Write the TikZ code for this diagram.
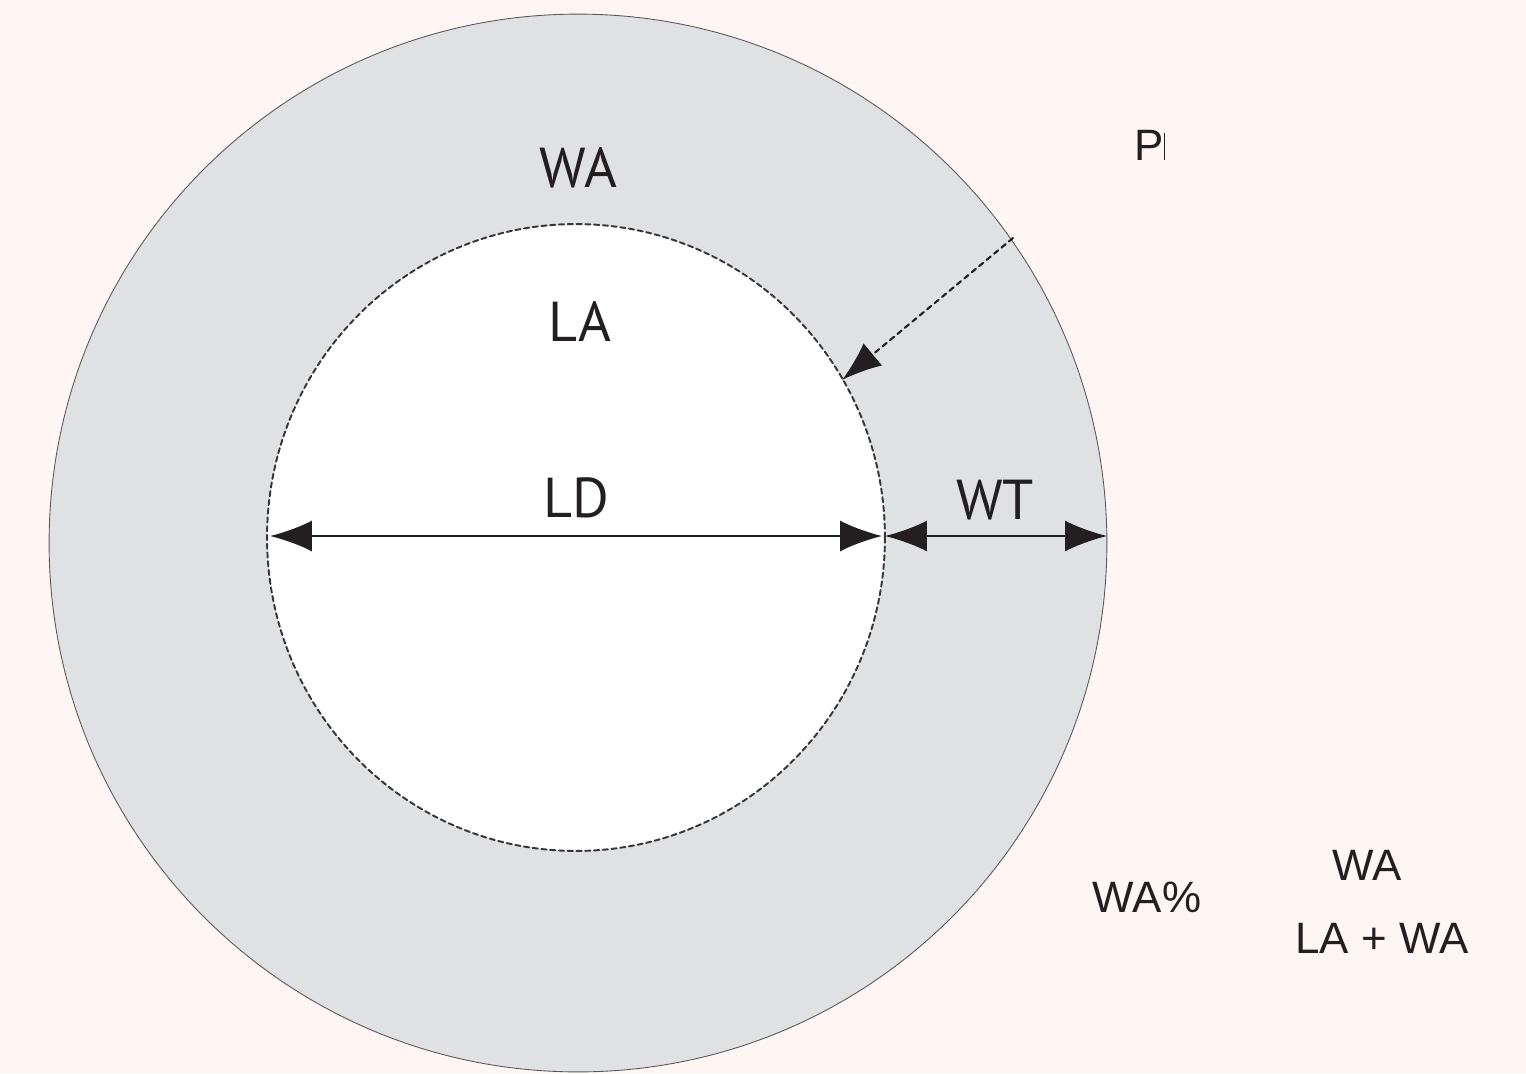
\documentclass[tikz,border=0pt]{standalone}
\usepackage{fontspec}
\setsansfont{PT Sans}
\newfontfamily\helv{Liberation Sans}
\usetikzlibrary{arrows, arrows.meta, calc, shapes.geometric}
\definecolor{bgpink}{HTML}{FFF5F3}
\definecolor{wallgray}{HTML}{E0E1E3}
\definecolor{inkdark}{HTML}{231F20}
\tikzset{
	lbl/.style={font=\sffamily\fontsize{32}{32}\selectfont, text=inkdark, inner sep=0pt},
	sidelbl/.style={font=\helv\fontsize{25}{25}\selectfont, text=inkdark, inner sep=0pt},
	dimarrow/.style={inkdark, line width=1.2pt, {Latex[length=0.84cm,width=0.62cm]}-{Latex[length=0.84cm,width=0.62cm]}},
}

\begin{document}
\begin{tikzpicture}[x=0.02cm, y=-0.02cm, line cap=round, line join=round]
% background
\fill[bgpink] (0,0) rectangle (1526,1073);
\useasboundingbox (0,0) rectangle (1526,1073);
%========================
% airway: wall and lumen
%========================
\node[circle, draw=gray!70!black, line width=0.5pt, fill=wallgray, minimum size=21.16cm, inner sep=0pt] (wall) at (578,543) {};
\node[ellipse, draw=inkdark!90, fill=white, line width=1.1pt, dash pattern=on 3pt off 2pt, minimum width=12.36cm, minimum height=12.54cm, inner sep=0pt] (lumen) at (576,537.5) {};
% labels inside
\node[lbl] (wa) at (578,168) {WA};
\node[lbl] (la) at (580,322) {LA};
\node[lbl] (ld) at (576,498) {LD};
\node[lbl] (wt) at (995,500) {WT};
% dimension arrows
\coordinate (ldL) at (270,536);
\coordinate (ldR) at (882,536);
\coordinate (wtL) at (885,536);
\coordinate (wtR) at (1107,536);
\draw[dimarrow] (ldL) -- (ldR);
\draw[dimarrow] (wtL) -- (wtR);
% perimeter pointer
\coordinate (pout) at (1013,238);
\coordinate (pin) at (842,380);
\draw[inkdark, line width=1.2pt, dash pattern=on 3pt off 2.5pt, -{Latex[length=0.8cm,width=0.58cm]}] (pout) -- (pin);
%========================
% right: side texts
%========================
\node[sidelbl] (pi) at (1150,145) {P\rule{0.6pt}{0.55cm}};
\node[sidelbl] (wapct) at (1147,897) {WA\%};
\node[sidelbl] (num) at (1367,865) {WA};
\node[sidelbl] (den) at (1382,938) {LA + WA};
\end{tikzpicture}
\end{document}
